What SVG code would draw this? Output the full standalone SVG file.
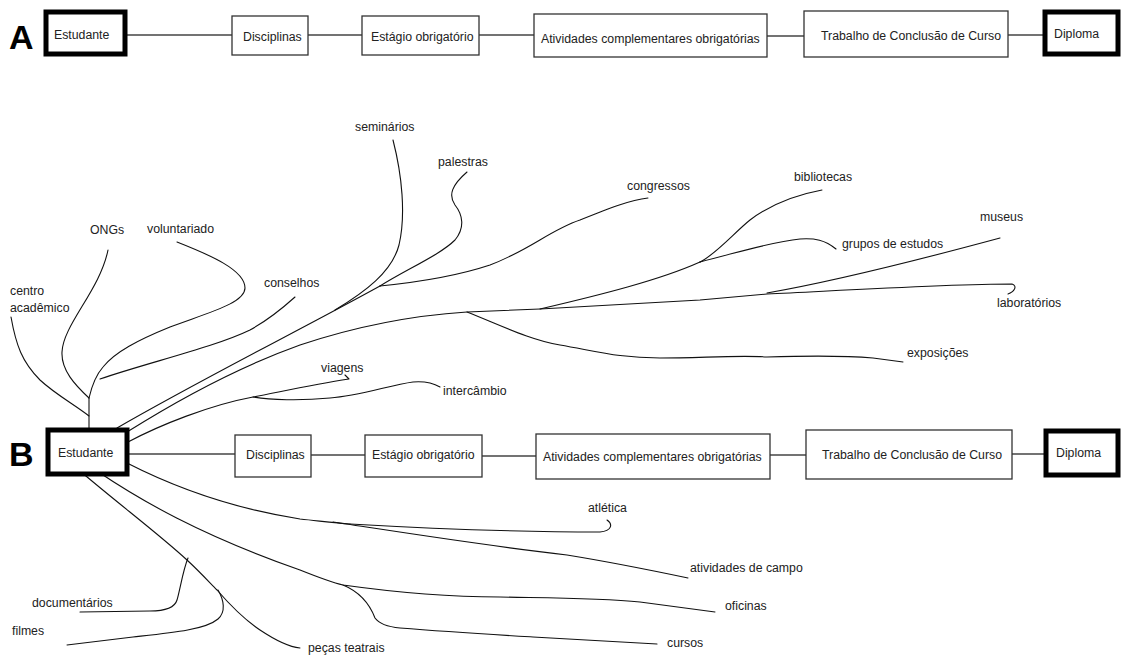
<svg xmlns="http://www.w3.org/2000/svg" width="1121" height="655" viewBox="0 0 1121 655">
<style>
  .bg{fill:#fff}
  .box{fill:#fff;stroke:#333;stroke-width:1.3}
  .thick{fill:#fff;stroke:#000;stroke-width:5}
  .t{font-family:"Liberation Sans",Arial,sans-serif;font-size:12.3px;fill:#222}
  .big{font-family:"Liberation Sans",Arial,sans-serif;font-size:34px;font-weight:bold;fill:#000}
  .link{fill:none;stroke:#444;stroke-width:1.5}
  .c{fill:none;stroke:#111;stroke-width:1.1;stroke-linecap:round;stroke-linejoin:round}
</style>
<rect class="bg" x="0" y="0" width="1121" height="655"/>

<text class="big" x="9" y="49">A</text>
<text class="big" x="9" y="466">B</text>

<g id="connectors">
  <!-- row A -->
  <line class="link" x1="125" y1="35" x2="232" y2="35"/>
  <line class="link" x1="308" y1="35" x2="362" y2="35"/>
  <line class="link" x1="479" y1="35" x2="534" y2="35"/>
  <line class="link" x1="767" y1="36" x2="804" y2="36"/>
  <line class="link" x1="1008" y1="35" x2="1045" y2="35"/>
  <!-- row B -->
  <line class="link" x1="127" y1="454" x2="235" y2="454"/>
  <line class="link" x1="311" y1="455" x2="365" y2="455"/>
  <line class="link" x1="482" y1="456" x2="536" y2="456"/>
  <line class="link" x1="770" y1="455" x2="806" y2="455"/>
  <line class="link" x1="1012" y1="454" x2="1046" y2="454"/>

  <!-- upper curves -->
  <path class="c" d="M11,317 C16,345 22,362 40,380 C55,394 75,405 89,416"/>
  <path class="c" d="M89,428 L89,398"/>
  <path class="c" d="M89,398 C75,385 61,370 62,352 C63,325 100,290 108,250"/>
  <path class="c" d="M89,398 C92,385 96,375 103,367 C115,352 138,340 170,327 C210,312 245,303 245,288 C245,270 210,255 177,242"/>
  <path class="c" d="M100,379 C150,362 215,347 250,330 C270,319 285,306 295,297"/>
  <path class="c" d="M117,428 C200,380 300,330 380,286"/>
  <path class="c" d="M335,310 C365,292 392,272 399,245 C406,215 402,175 393,140"/>
  <path class="c" d="M380,286 C405,270 440,255 455,240 C465,228 463,215 455,205 C448,195 452,185 467,172"/>
  <path class="c" d="M380,286 C420,282 460,275 490,265 C530,250 550,230 580,220 C610,208 630,200 648,198"/>
  <path class="c" d="M127,432 C170,405 230,370 300,345 C360,325 420,315 467,312 L540,309 L700,300 L767,294 C850,290 950,284 1012,284 C1018,286 1014,292 1008,294"/>
  <path class="c" d="M467,312 C500,325 530,340 560,345 C600,352 620,358 660,358 C700,358 740,355 767,357 C800,356 850,356 873,358 L903,362"/>
  <path class="c" d="M540,309 C600,295 660,280 700,262"/>
  <path class="c" d="M700,262 C740,252 770,242 800,239 C815,238 825,240 836,249"/>
  <path class="c" d="M700,262 C715,255 735,232 750,220 C770,205 795,195 822,190"/>
  <path class="c" d="M767,293 C830,282 900,265 1000,238"/>
  <path class="c" d="M128,442 C160,425 210,405 253,397 C275,393 310,385 349,379 L345,375"/>
  <path class="c" d="M253,397 C270,400 300,401 330,398 C360,396 390,385 413,382 C425,381 433,383 440,387"/>

  <!-- lower curves -->
  <path class="c" d="M127,463 C170,485 230,508 300,519 C320,521 335,523 350,524"/>
  <path class="c" d="M350,524 C420,528 500,532 600,532 C612,531 613,524 607,520"/>
  <path class="c" d="M333,522 C400,532 480,545 567,555 C610,562 650,570 688,578"/>
  <path class="c" d="M97,471 C140,500 200,535 300,570 C315,576 330,582 343,585 C400,593 450,597 500,597 C550,598 600,598 640,602 L715,612"/>
  <path class="c" d="M343,585 C360,592 370,605 375,618 C380,625 390,627 400,628 C450,632 500,635 533,637 L657,644"/>
  <path class="c" d="M80,471 C120,505 160,535 187,560 C200,572 210,583 217,590 C230,605 245,620 260,630 C275,640 290,647 300,648"/>
  <path class="c" d="M188,558 C183,570 180,590 177,600 C175,607 165,611 150,611 L80,612"/>
  <path class="c" d="M218,590 C224,600 226,612 218,619 C205,630 170,633 133,637 L67,645"/>
</g>

<!-- Row A nodes -->
<g id="a-estudante"><rect class="thick" x="46" y="12" width="79" height="42"/><text class="t" x="54" y="39">Estudante</text></g>
<g id="a-disciplinas"><rect class="box" x="232" y="16" width="76" height="39"/><text class="t" x="243" y="41">Disciplinas</text></g>
<g id="a-estagio"><rect class="box" x="362" y="16" width="117" height="39"/><text class="t" x="371" y="41">Estágio obrigatório</text></g>
<g id="a-atividades"><rect class="box" x="534" y="14" width="233" height="43"/><text class="t" x="541" y="43">Atividades complementares obrigatórias</text></g>
<g id="a-tcc"><rect class="box" x="804" y="11" width="204" height="46"/><text class="t" x="821" y="40">Trabalho de Conclusão de Curso</text></g>
<g id="a-diploma"><rect class="thick" x="1045" y="12" width="73" height="42"/><text class="t" x="1054" y="38">Diploma</text></g>

<!-- Row B nodes -->
<g id="b-estudante"><rect class="thick" x="48" y="430" width="79" height="44"/><text class="t" x="58" y="457">Estudante</text></g>
<g id="b-disciplinas"><rect class="box" x="235" y="435" width="76" height="42"/><text class="t" x="246" y="459">Disciplinas</text></g>
<g id="b-estagio"><rect class="box" x="365" y="435" width="117" height="42"/><text class="t" x="372" y="459">Estágio obrigatório</text></g>
<g id="b-atividades"><rect class="box" x="536" y="434" width="234" height="45"/><text class="t" x="543" y="461">Atividades complementares obrigatórias</text></g>
<g id="b-tcc"><rect class="box" x="806" y="430" width="206" height="49"/><text class="t" x="822" y="459">Trabalho de Conclusão de Curso</text></g>
<g id="b-diploma"><rect class="thick" x="1046" y="431" width="72" height="44"/><text class="t" x="1056" y="457">Diploma</text></g>

<!-- branch labels -->
<g id="labels">
  <g id="n-centro"><text class="t" x="10" y="295">centro</text><text class="t" x="10" y="312">acadêmico</text></g>
  <g id="n-ongs"><text class="t" x="90" y="234">ONGs</text></g>
  <g id="n-voluntariado"><text class="t" x="147" y="233">voluntariado</text></g>
  <g id="n-conselhos"><text class="t" x="264" y="287">conselhos</text></g>
  <g id="n-seminarios"><text class="t" x="355" y="131">seminários</text></g>
  <g id="n-palestras"><text class="t" x="438" y="166">palestras</text></g>
  <g id="n-congressos"><text class="t" x="627" y="190">congressos</text></g>
  <g id="n-bibliotecas"><text class="t" x="794" y="181">bibliotecas</text></g>
  <g id="n-grupos"><text class="t" x="842" y="248">grupos de estudos</text></g>
  <g id="n-museus"><text class="t" x="980" y="221">museus</text></g>
  <g id="n-laboratorios"><text class="t" x="997" y="307">laboratórios</text></g>
  <g id="n-exposicoes"><text class="t" x="907" y="357">exposições</text></g>
  <g id="n-viagens"><text class="t" x="321" y="372">viagens</text></g>
  <g id="n-intercambio"><text class="t" x="443" y="395">intercâmbio</text></g>
  <g id="n-atletica"><text class="t" x="588" y="512">atlética</text></g>
  <g id="n-campo"><text class="t" x="690" y="572">atividades de campo</text></g>
  <g id="n-oficinas"><text class="t" x="725" y="610">oficinas</text></g>
  <g id="n-cursos"><text class="t" x="667" y="647">cursos</text></g>
  <g id="n-documentarios"><text class="t" x="32" y="607">documentários</text></g>
  <g id="n-filmes"><text class="t" x="12" y="635">filmes</text></g>
  <g id="n-pecas"><text class="t" x="308" y="652">peças teatrais</text></g>
</g>
</svg>
